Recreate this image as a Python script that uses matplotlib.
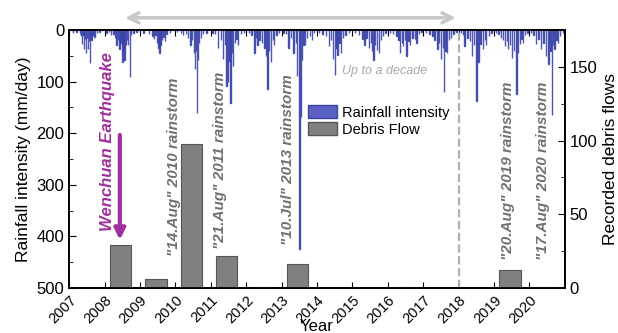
import matplotlib.pyplot as plt
from matplotlib.ticker import MultipleLocator
from matplotlib.patches import Patch

plt.rcParams['font.family'] = ['Liberation Sans', 'DejaVu Sans']

# daily rainfall events: (fraction of year, mm/day)
rain = {
    2007: [(0.10, 5), (0.20, 4), (0.30, 8), (0.33, 12), (0.36, 27), (0.40, 10), (0.42, 37), (0.45, 18),
           (0.48, 44), (0.50, 15), (0.53, 37), (0.56, 22), (0.58, 64), (0.60, 12), (0.63, 20), (0.66, 9),
           (0.72, 14), (0.78, 6), (0.85, 4)],
    2008: [(0.05, 6), (0.12, 4), (0.18, 10), (0.25, 7), (0.30, 15), (0.34, 29), (0.38, 20), (0.42, 37),
           (0.45, 25), (0.48, 18), (0.50, 63), (0.53, 40), (0.56, 58), (0.60, 30), (0.63, 20), (0.66, 30),
           (0.72, 92), (0.75, 10), (0.82, 6), (0.90, 4)],
    2009: [(0.10, 5), (0.25, 8), (0.35, 12), (0.40, 18), (0.44, 10), (0.48, 25), (0.52, 35), (0.55, 45),
           (0.58, 30), (0.62, 20), (0.66, 14), (0.70, 22), (0.75, 8), (0.85, 5)],
    2010: [(0.05, 4), (0.15, 6), (0.22, 10), (0.30, 8), (0.36, 15), (0.42, 30), (0.47, 20), (0.52, 45),
           (0.55, 76), (0.58, 40), (0.61, 160), (0.64, 58), (0.67, 25), (0.72, 15), (0.78, 8), (0.88, 5)],
    2011: [(0.05, 6), (0.12, 8), (0.21, 34), (0.28, 20), (0.35, 56), (0.40, 30), (0.44, 108), (0.49, 100),
           (0.53, 60), (0.56, 141), (0.60, 45), (0.63, 70), (0.68, 25), (0.72, 18), (0.77, 30), (0.85, 8),
           (0.93, 5)],
    2012: [(0.08, 5), (0.15, 10), (0.23, 44), (0.28, 15), (0.32, 30), (0.38, 20), (0.45, 25), (0.52, 35),
           (0.56, 50), (0.60, 115), (0.65, 40), (0.70, 63), (0.75, 20), (0.79, 30), (0.85, 10), (0.93, 5)],
    2013: [(0.05, 5), (0.12, 8), (0.20, 35), (0.27, 15), (0.34, 44), (0.40, 25), (0.44, 89), (0.50, 425),
           (0.54, 168), (0.58, 58), (0.62, 30), (0.66, 30), (0.72, 15), (0.80, 12), (0.85, 20), (0.92, 6)],
    2014: [(0.05, 5), (0.15, 8), (0.25, 12), (0.33, 31), (0.40, 20), (0.45, 57), (0.50, 87), (0.55, 35),
           (0.58, 48), (0.63, 25), (0.68, 44), (0.73, 15), (0.80, 10), (0.90, 5)],
    2015: [(0.08, 6), (0.18, 10), (0.28, 18), (0.34, 29), (0.40, 15), (0.46, 35), (0.52, 25), (0.56, 40),
           (0.59, 58), (0.64, 30), (0.70, 38), (0.75, 45), (0.80, 20), (0.87, 12), (0.93, 5)],
    2016: [(0.06, 5), (0.15, 8), (0.25, 12), (0.30, 20), (0.34, 44), (0.40, 25), (0.43, 31), (0.48, 20),
           (0.53, 50), (0.58, 22), (0.62, 30), (0.70, 15), (0.76, 18), (0.81, 25), (0.88, 8), (0.95, 4)],
    2017: [(0.08, 5), (0.18, 8), (0.26, 12), (0.32, 20), (0.40, 37), (0.45, 25), (0.50, 56), (0.55, 35),
           (0.59, 121), (0.63, 40), (0.67, 44), (0.72, 20), (0.78, 15), (0.86, 8), (0.94, 4)],
    2018: [(0.06, 6), (0.12, 10), (0.17, 31), (0.25, 15), (0.32, 22), (0.38, 50), (0.44, 30), (0.50, 138),
           (0.56, 63), (0.62, 28), (0.69, 37), (0.74, 20), (0.78, 30), (0.85, 12), (0.93, 5)],
    2019: [(0.05, 5), (0.12, 8), (0.20, 15), (0.26, 20), (0.31, 31), (0.36, 22), (0.40, 37), (0.45, 30),
           (0.50, 54), (0.56, 40), (0.63, 125), (0.68, 44), (0.73, 28), (0.78, 18), (0.82, 25), (0.88, 10),
           (0.95, 5)],
    2020: [(0.05, 6), (0.12, 10), (0.19, 27), (0.26, 18), (0.33, 37), (0.40, 25), (0.47, 50), (0.54, 66),
           (0.59, 40), (0.63, 165), (0.67, 30), (0.71, 37), (0.76, 20), (0.80, 26), (0.87, 12), (0.94, 5)],
}

debris_years = [2008, 2009, 2010, 2011, 2012, 2013, 2014, 2015, 2016, 2017, 2018, 2019, 2020]
debris_counts = [29, 6, 98, 22, 1, 16, 0, 0, 1, 0, 0, 12, 1]

year_ticks = list(range(2007, 2021))

storm_labels = ['"14.Aug" 2010 rainstorm', '"21.Aug" 2011 rainstorm', '"10.Jul" 2013 rainstorm',
                '"20.Aug" 2019 rainstorm', '"17.Aug" 2020 rainstorm']
storm_x = [2009.96, 2011.26, 2013.18, 2019.39, 2020.38]
storm_y = [265, 252, 252, 272, 272]

rain_x = []
rain_v = []
for yr, evs in rain.items():
    for f, v in evs:
        rain_x.append(yr + f)
        rain_v.append(v)

fig = plt.figure(figsize=(6.18, 3.33), dpi=100)
ax = fig.add_axes([0.112, 0.135, 0.802, 0.775])
ax2 = ax.twinx()

blue = '#3a44aa'
ax.bar(rain_x, rain_v, width=0.012, color=blue, edgecolor=blue, linewidth=1.0, alpha=0.9)
ax.set_xlim(2007, 2021)
ax.set_ylim(500, 0)
ax.yaxis.set_major_locator(MultipleLocator(100))
ax.yaxis.set_minor_locator(MultipleLocator(50))
ax.set_xticks(year_ticks)
ax.set_xticklabels([str(y) for y in year_ticks], rotation=45, ha='right', rotation_mode='anchor', fontsize=10.5)
ax.tick_params(axis='y', which='both', direction='in', labelsize=12)
ax.tick_params(axis='y', which='major', length=5)
ax.tick_params(axis='y', which='minor', length=3)
ax.tick_params(axis='x', direction='in', top=True, length=4)
ax.set_ylabel('Rainfall intensity (mm/day)', fontsize=12.5)
ax.set_xlabel('Year', fontsize=12, labelpad=-5)

ax2.bar([y + 0.15 for y in debris_years], debris_counts, width=0.6, align='edge',
        color='#808080', edgecolor='#555555', linewidth=0.8)
ax2.set_ylim(0, 175)
ax2.yaxis.set_major_locator(MultipleLocator(50))
ax2.yaxis.set_minor_locator(MultipleLocator(25))
ax2.tick_params(axis='y', which='both', direction='in', labelsize=12)
ax2.tick_params(axis='y', which='major', length=5)
ax2.tick_params(axis='y', which='minor', length=3)
ax2.set_ylabel('Recorded debris flows', fontsize=12.5)

for a in (ax, ax2):
    for s in a.spines.values():
        s.set_linewidth(1.3)

# 2018 separator and decade arrow
ax.axvline(2018, color='#b0b0b0', ls='--', lw=1.6)
ax.annotate('', xy=(2018, 1.047), xytext=(2008.5, 1.047), xycoords=('data', 'axes fraction'),
            arrowprops=dict(arrowstyle='<->', color='#c8c8c8', lw=2.5, mutation_scale=18),
            annotation_clip=False)
ax.text(2015.9, 80, 'Up to a decade', style='italic', color='#a8a8a8', fontsize=9,
        ha='center', va='center')

# earthquake
purple = '#a0309c'
ax.annotate('', xy=(2008.43, 412), xytext=(2008.43, 198),
            arrowprops=dict(arrowstyle='-|>', color=purple, lw=3, mutation_scale=16))
ax.text(2008.08, 217, 'Wenchuan Earthquake', rotation=90, color=purple, fontsize=12,
        fontweight='bold', style='italic', ha='center', va='center')

for lab, sx, sy in zip(storm_labels, storm_x, storm_y):
    ax2.text(sx, 175 * (1 - sy / 500), lab, rotation=90, color='#707070', fontsize=11,
             fontweight='bold', style='italic', ha='center', va='center')

handles = [Patch(facecolor='#5a60c0', edgecolor='#3b44a5'), Patch(facecolor='#808080', edgecolor='#555555')]
ax2.legend(handles, ['Rainfall intensity', 'Debris Flow'], loc='upper left', bbox_to_anchor=(0.47, 0.73),
           frameon=False, fontsize=10.5, handlelength=2.0, handleheight=0.9, handletextpad=0.3,
           labelspacing=0.2, borderaxespad=0)

fig.savefig('out.png', dpi=100)
